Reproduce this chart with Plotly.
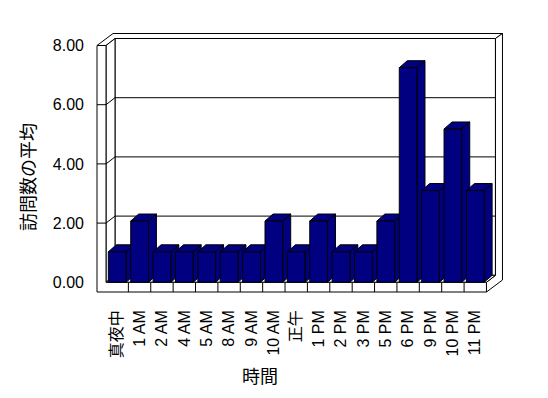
import plotly.graph_objects as go

# ---- data ----
categories = ["真夜中", "1 AM", "2 AM", "4 AM", "5 AM", "8 AM", "9 AM", "10 AM", "正午",
              "1 PM", "2 PM", "3 PM", "5 PM", "6 PM", "9 PM", "10 PM", "11 PM"]
values = [1.03, 2.07, 1.03, 1.03, 1.03, 1.03, 1.03, 2.07, 1.03,
          2.07, 1.03, 1.03, 2.07, 7.25, 3.1, 5.18, 3.1]
y_ticks = [0, 2, 4, 6, 8]
y_title = "訪問数の平均"
x_title = "時間"

# ---- geometry (pixel calibration of the front plane) ----
W, H = 548, 398
PX0, PXU = 106.0, 22.38   # pixel x of index -0.5, pixels per category
PY0, PYU = 282.3, 29.6    # pixel y of value 0, pixels per unit
PL, PR, PT, PB = 95, 505, 31, 294  # plot area in pixels


def X(px):
    return -0.5 + (px - PX0) / PXU


def Y(py):
    return (PY0 - py) / PYU


def DX(p):
    return p / PXU


def DY(p):
    return p / PYU


def path(pts):
    return "M " + " L ".join(f"{x:.4f},{y:.4f}" for x, y in pts) + " Z"


n = len(categories)
x_lo, x_hi = -0.5, n - 0.5
top = y_ticks[-1]
x_out = X(97)
y_fl = Y(292)
wdx, wdy = DX(9), DY(7)     # front -> back wall
tdx, tdy = DX(7), DY(5)     # back wall thickness
bdx, bdy = DX(8), DY(7)     # bar depth
bw = DX(17.7)

xb0, xb1 = x_lo + wdx, x_hi + wdx
yb0, yb1 = wdy, top + wdy

LINE = dict(color="black", width=1)
shapes = []


def poly(pts, fill="white"):
    shapes.append(dict(type="path", path=path(pts), xref="x", yref="y",
                       fillcolor=fill, line=LINE, layer="below"))


def seg(p, q):
    shapes.append(dict(type="line", x0=p[0], y0=p[1], x1=q[0], y1=q[1],
                       xref="x", yref="y", line=LINE, layer="below"))


# back wall inner face
poly([(xb0, yb0), (xb1, yb0), (xb1, yb1), (xb0, yb1)])
for v in y_ticks[1:-1]:
    seg((xb0, v + wdy), (xb1, v + wdy))
# top surfaces (left wall top + back wall top)
poly([(x_out, top), (x_lo, top), (xb0, yb1), (xb1, yb1),
      (xb1 + tdx, yb1 + tdy), (x_out + wdx + tdx, top + wdy + tdy)])
# right end (back wall end + floor end)
poly([(x_hi, 0), (x_hi, y_fl), (x_hi + wdx + tdx, y_fl + wdy + tdy),
      (xb1 + tdx, yb1 + tdy), (xb1, yb1), (xb1, yb0)])
# left wall inner side
poly([(x_lo, top), (xb0, yb1), (xb0, yb0), (x_lo, 0)])
for v in y_ticks[1:-1]:
    seg((x_lo, v), (xb0, v + wdy))
# floor top
poly([(x_lo, 0), (x_hi, 0), (xb1, yb0), (xb0, yb0)])
# front L-shaped face
poly([(x_out, top), (x_out, y_fl), (x_hi, y_fl), (x_hi, 0), (x_lo, 0), (x_lo, top)])
for v in y_ticks[1:-1]:
    seg((x_out, v), (x_lo, v))
for k in range(1, n):
    seg((k - 0.5, 0), (k - 0.5, y_fl))

# bar side and top faces (drawn left to right, under the front faces)
NAVY = "#000080"
for i, v in enumerate(values):
    l, r = i - bw / 2, i + bw / 2
    poly([(r, 0), (r, v), (r + bdx, v + bdy), (r + bdx, bdy)], NAVY)
    poly([(l, v), (r, v), (r + bdx, v + bdy), (l + bdx, v + bdy)], NAVY)

fig = go.Figure()
fig.add_trace(go.Bar(x=list(range(n)), y=values, width=bw,
                     marker=dict(color=NAVY, line=dict(color="black", width=1)),
                     hoverinfo="skip"))

FONT = "Liberation Sans, Arial, Noto Sans CJK JP, sans-serif"


def px_to_paper(px, py):
    return (px - PL) / (PR - PL), (PB - py) / (PB - PT)


ax_, ay_ = px_to_paper(29, 177)
bx_, by_ = px_to_paper(260, 377)

fig.update_layout(
    width=W, height=H,
    margin=dict(l=PL, r=W - PR, t=PT, b=H - PB, pad=0),
    paper_bgcolor="white", plot_bgcolor="white",
    showlegend=False,
    font=dict(family=FONT, size=16, color="black"),
    shapes=shapes,
    xaxis=dict(range=[X(PL), X(PR)], tickmode="array", tickvals=list(range(n)),
               ticktext=categories, tickangle=-90, showgrid=False, zeroline=False,
               showline=False, ticks="", ticklabelstandoff=12, automargin=False,
               tickfont=dict(size=16, family=FONT, color="black")),
    yaxis=dict(range=[Y(PB), Y(PT)], tickmode="array", tickvals=y_ticks,
               tickformat=".2f", showgrid=False, zeroline=False, showline=False,
               ticks="", ticklabelstandoff=10, automargin=False,
               tickfont=dict(size=16, family=FONT, color="black")),
    annotations=[
        dict(text=y_title, x=ax_, y=ay_, xref="paper", yref="paper", showarrow=False,
             textangle=-90, font=dict(size=18, family=FONT), xanchor="center", yanchor="middle"),
        dict(text=x_title, x=bx_, y=by_, xref="paper", yref="paper", showarrow=False,
             font=dict(size=18, family=FONT), xanchor="center", yanchor="middle"),
    ],
)

fig.write_html("out.html", config={"displayModeBar": False},
               post_script="document.body.style.margin='0';")
